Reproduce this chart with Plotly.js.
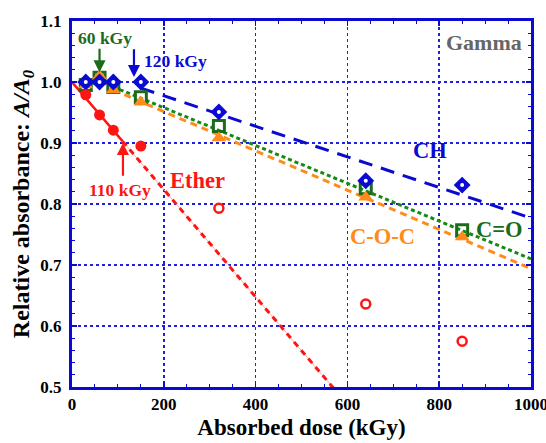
<!DOCTYPE html>
<html><head><meta charset="utf-8">
<script src="https://cdn.plot.ly/plotly-3.0.1.min.js"></script>
<style>html,body{margin:0;padding:0;background:#fff}#chart{width:546px;height:443px}</style>
</head><body><div id="chart"></div>
<script>
// ---- data ----
const dose      = [30, 60, 90, 150, 320, 640, 850];
const chVals    = [1.0, 1.0, 1.0, 1.0, 0.951, 0.838, 0.831];
const coVals    = [0.995, 1.007, 0.992, 0.975, 0.928, 0.826, 0.757];
const cocVals   = [0.995, 1.01, 0.987, 0.967, 0.908, 0.811, 0.746];
const etherVals = [0.979, 0.946, 0.921, 0.895, 0.793, 0.636, 0.575];
// fitted lines (end points)
const chFitX = [150, 1000],  chFitY = [0.990, 0.777];
const coFitX = [90, 1000],   coFitY = [0.992, 0.710];
const cocFitX = [90, 1000],  cocFitY = [0.987, 0.694];
const etherFitX = [0, 110, 570], etherFitY = [1.0, 0.903, 0.498];
const xTicks = [0, 200, 400, 600, 800, 1000];
const yTicks = [0.5, 0.6, 0.7, 0.8, 0.9, 1.0, 1.1];

const BLUE = '#0a0ad2', GREEN = '#1c6b1c', ORANGE = '#ff8c1a', RED = '#ff1414';
const serif = 'Liberation Serif';

const traces = [
  {x: chFitX, y: chFitY, mode: 'lines', line: {color: BLUE, width: 3, dash: '14px,9px'}, hoverinfo: 'skip'},
  {x: coFitX, y: coFitY, mode: 'lines', line: {color: '#138a13', width: 3, dash: '4px,3px'}, hoverinfo: 'skip'},
  {x: cocFitX, y: cocFitY, mode: 'lines', line: {color: ORANGE, width: 3, dash: '7px,5px'}, hoverinfo: 'skip'},
  {x: etherFitX.slice(1), y: etherFitY.slice(1), mode: 'lines', line: {color: '#ffb0b0', width: 1}, hoverinfo: 'skip'},
  {x: etherFitX.slice(1), y: etherFitY.slice(1), mode: 'lines', line: {color: RED, width: 3, dash: '6px,5px'}, hoverinfo: 'skip'},
  {x: etherFitX.slice(0, 2), y: etherFitY.slice(0, 2), mode: 'lines', line: {color: RED, width: 2.5}, hoverinfo: 'skip'},
  {x: dose, y: coVals, mode: 'markers', marker: {symbol: 'square-open', size: 11, color: GREEN, line: {width: 3, color: GREEN}}},
  {x: dose, y: cocVals, mode: 'markers', marker: {symbol: 'triangle-up', size: 13, color: ORANGE, line: {width: 0}}},
  {x: dose, y: chVals, mode: 'markers', marker: {symbol: 'diamond', size: 13, color: BLUE, line: {width: 0}}},
  {x: dose, y: chVals, mode: 'markers', marker: {symbol: 'circle', size: 4, color: '#ffffff', line: {width: 0}}},
  {x: dose.slice(0, 4), y: etherVals.slice(0, 4), mode: 'markers', marker: {symbol: 'circle', size: 11, color: RED}},
  {x: dose.slice(4), y: etherVals.slice(4), mode: 'markers', marker: {symbol: 'circle-open', size: 9, color: RED, line: {width: 2.5, color: RED}}}
];

function lbl(text, x, y, color, size, extra) {
  return Object.assign({text: '<b>' + text + '</b>', x: x, y: y, xref: 'x', yref: 'y', showarrow: false,
    font: {family: serif, size: size, color: color}}, extra || {});
}
function arrow(x, yTip, yTail, color) {
  return {x: x, y: yTip, ax: x, ay: yTail, xref: 'x', yref: 'y', axref: 'x', ayref: 'y', text: '',
    showarrow: true, arrowhead: 2, arrowsize: 1.1, arrowwidth: 2.2, arrowcolor: color};
}

const layout = {
  width: 546, height: 443,
  margin: {l: 72, r: 15, t: 21, b: 56},
  paper_bgcolor: '#fff', plot_bgcolor: '#fff',
  showlegend: false,
  font: {family: serif, color: '#000'},
  xaxis: {
    range: [0, 1000], tickvals: xTicks, ticktext: xTicks.map(v => '<b>' + v + '</b>'),
    tickfont: {family: serif, size: 17, color: '#000'}, ticklabeloverflow: 'allow',
    showline: true, linecolor: BLUE, linewidth: 3, mirror: 'allticks',
    ticks: 'inside', ticklen: 5, tickcolor: BLUE, tickwidth: 1.5,
    minor: {ticks: 'inside', ticklen: 3, dtick: 50, tickcolor: BLUE, tickwidth: 1, showgrid: false},
    showgrid: true, gridcolor: '#2020e0', gridwidth: 1.5, griddash: 'dot',
    zeroline: false,
    title: {text: '<b>Absorbed dose (kGy)</b>', font: {family: serif, size: 23, color: '#000'}, standoff: 6}
  },
  yaxis: {
    range: [0.5, 1.1], tickvals: yTicks, ticktext: yTicks.map(v => '<b>' + v.toFixed(1) + '</b>'),
    tickfont: {family: serif, size: 17, color: '#000'},
    showline: true, linecolor: BLUE, linewidth: 3, mirror: 'allticks',
    ticks: 'inside', ticklen: 5, tickcolor: BLUE, tickwidth: 1.5,
    minor: {ticks: 'inside', ticklen: 3, dtick: 0.02, tickcolor: BLUE, tickwidth: 1, showgrid: false},
    showgrid: true, gridcolor: '#2020e0', gridwidth: 1.5, griddash: 'dot',
    zeroline: false, ticklabelstandoff: 4,
    title: {text: '<b>Relative absorbance: <i>A/A</i><sub><i>0</i></sub></b>', font: {family: serif, size: 24, color: '#000'}, standoff: 4}
  },
  annotations: [
    arrow(60, 1.016, 1.057, GREEN),
    arrow(135, 1.008, 1.056, BLUE),
    arrow(111, 0.900, 0.844, RED),
    lbl('60 kGy', 72, 1.072, GREEN, 17.5),
    lbl('120 kGy', 152, 1.034, BLUE, 17.5, {xanchor: 'left'}),
    lbl('110 kGy', 104, 0.823, RED, 17.5),
    lbl('Ether', 274, 0.839, RED, 22.5),
    lbl('CH', 779, 0.887, BLUE, 22.5),
    lbl('C=O', 932, 0.759, GREEN, 22.5),
    lbl('C-O-C', 677, 0.746, ORANGE, 22.5),
    lbl('Gamma', 897, 1.064, '#666666', 22)
  ]
};

Plotly.newPlot('chart', traces, layout, {displayModeBar: false, staticPlot: true});
</script></body></html>
